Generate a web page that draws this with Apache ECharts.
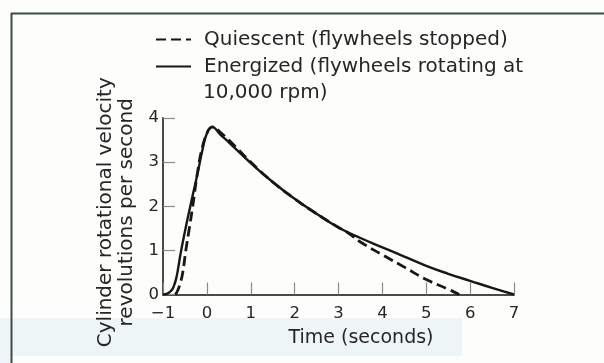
<!DOCTYPE html>
<html>
<head>
<meta charset="utf-8">
<script src="https://cdn.jsdelivr.net/npm/echarts@6/dist/echarts.min.js"></script>
<style>
  html, body { margin: 0; padding: 0; background: #fdfdfb; }
  #chart { width: 604px; height: 363px; }
</style>
</head>
<body>
<div id="chart"></div>
<script>
// Time axis ticks (seconds) and velocity ticks (revolutions per second)
const timeTicks = [-1, 0, 1, 2, 3, 4, 5, 6, 7];
const velocityTicks = [0, 1, 2, 3, 4];

// Energized: flywheels rotating at 10,000 rpm
const energizedTime = [-1, -0.9, -0.8, -0.75, -0.7, -0.65, -0.6, -0.5, -0.4, -0.3, -0.2, -0.1, 0, 0.12, 0.3, 0.5, 1, 1.5, 2, 2.5, 3, 3.5, 4, 4.5, 5, 5.5, 6, 6.5, 7];
const energizedVel  = [0, 0.02, 0.1, 0.2, 0.36, 0.62, 0.92, 1.43, 1.9, 2.35, 2.8, 3.28, 3.65, 3.8, 3.63, 3.45, 2.98, 2.55, 2.17, 1.83, 1.52, 1.28, 1.07, 0.86, 0.65, 0.47, 0.31, 0.15, 0];

// Quiescent: flywheels stopped
const quiescentTime = [-0.72, -0.67, -0.6, -0.55, -0.48, -0.4, -0.33, -0.2, -0.1, 0, 0.08, 0.15, 0.3, 0.5, 1, 1.5, 2, 2.5, 3, 3.2, 3.5, 4, 4.5, 5, 5.5, 5.75];
const quiescentVel  = [0, 0.08, 0.28, 0.5, 1.0, 1.5, 1.95, 2.85, 3.35, 3.65, 3.78, 3.8, 3.68, 3.5, 3.0, 2.55, 2.17, 1.83, 1.52, 1.41, 1.19, 0.9, 0.62, 0.34, 0.12, 0];

const nameQuiescent = 'Quiescent (flywheels stopped)';
const nameEnergized = 'Energized (flywheels rotating at';
const energizedNote = '10,000 rpm)';

const FONT = 'DejaVu Sans';
const INK = '#262626';
const LINE = '#171717';

const pairs = (xs, ys) => xs.map((x, i) => [x, ys[i]]);

const chart = echarts.init(document.getElementById('chart'), null, { renderer: 'canvas' });

chart.setOption({
  animation: false,
  backgroundColor: '#fdfdfb',
  grid: { left: 163, right: 90, top: 118, bottom: 68.5 },
  legend: {
    orient: 'vertical', left: 155, top: 28, padding: 0, itemGap: 4,
    itemWidth: 35, itemHeight: 14, selectedMode: false,
    itemStyle: { opacity: 0 },
    textStyle: { fontFamily: FONT, fontSize: 20, color: INK, lineHeight: 23, padding: [0, 0, 0, 8] },
    data: [nameQuiescent, nameEnergized]
  },
  xAxis: {
    type: 'value', min: timeTicks[0], max: timeTicks[timeTicks.length - 1], interval: 1,
    name: 'Time (seconds)', nameLocation: 'middle', nameGap: 34,
    nameTextStyle: { fontFamily: FONT, fontSize: 19, color: INK, padding: [0, 0, 0, 45] },
    axisLine: { onZero: false, lineStyle: { color: '#4a4a4a', width: 2 } },
    axisTick: { inside: true, length: 12, lineStyle: { color: '#8a8a84', width: 1.2 } },
    axisLabel: {
      margin: 11, fontFamily: FONT, fontSize: 16.5, color: INK,
      formatter: v => String(v).replace('-', '\u2212')
    },
    splitLine: { show: false }
  },
  yAxis: {
    type: 'value', min: velocityTicks[0], max: velocityTicks[velocityTicks.length - 1], interval: 1,
    name: 'Cylinder rotational velocity\nrevolutions per second',
    nameLocation: 'middle', nameRotate: 90, nameGap: 26,
    nameTextStyle: { fontFamily: FONT, fontSize: 20, color: INK, lineHeight: 21, padding: [0, 12, 0, 0] },
    axisLine: { show: true, onZero: false, lineStyle: { color: '#4a4a4a', width: 2 } },
    axisTick: { show: true, inside: true, length: 12, lineStyle: { color: '#8a8a84', width: 1.2 } },
    axisLabel: { margin: 4, fontFamily: FONT, fontSize: 16.5, color: INK },
    splitLine: { show: false }
  },
  graphic: [
    // faint tint near the lower edge of the sheet
    { type: 'rect', z: -10, shape: { x: 0, y: 318, width: 462, height: 38 }, style: { fill: '#edf5f7' } },
    { type: 'rect', z: -10, shape: { x: 0, y: 356, width: 12, height: 7 }, style: { fill: '#edf5f7' } },
    // frame
    { type: 'line', shape: { x1: 11, y1: 13.5, x2: 604, y2: 13.5 }, style: { stroke: '#3f4b46', lineWidth: 2 } },
    { type: 'line', shape: { x1: 11.5, y1: 13, x2: 11.5, y2: 363 }, style: { stroke: '#3f4b46', lineWidth: 2 } },
    // continuation of the energized legend entry
    { type: 'text', x: 203, y: 93, style: { text: energizedNote, fontFamily: FONT, fontSize: 20, fill: INK, verticalAlign: 'middle' } }
  ],
  series: [
    {
      name: nameQuiescent, type: 'line', data: pairs(quiescentTime, quiescentVel),
      symbol: 'none', smooth: 0.5, z: 3,
      itemStyle: { color: LINE },
      lineStyle: { color: LINE, width: 2.8, type: [10, 5] }
    },
    {
      name: nameEnergized, type: 'line', data: pairs(energizedTime, energizedVel),
      symbol: 'none', smooth: 0.5, z: 2,
      itemStyle: { color: LINE },
      lineStyle: { color: LINE, width: 2.4 }
    }
  ]
});
</script>
</body>
</html>
